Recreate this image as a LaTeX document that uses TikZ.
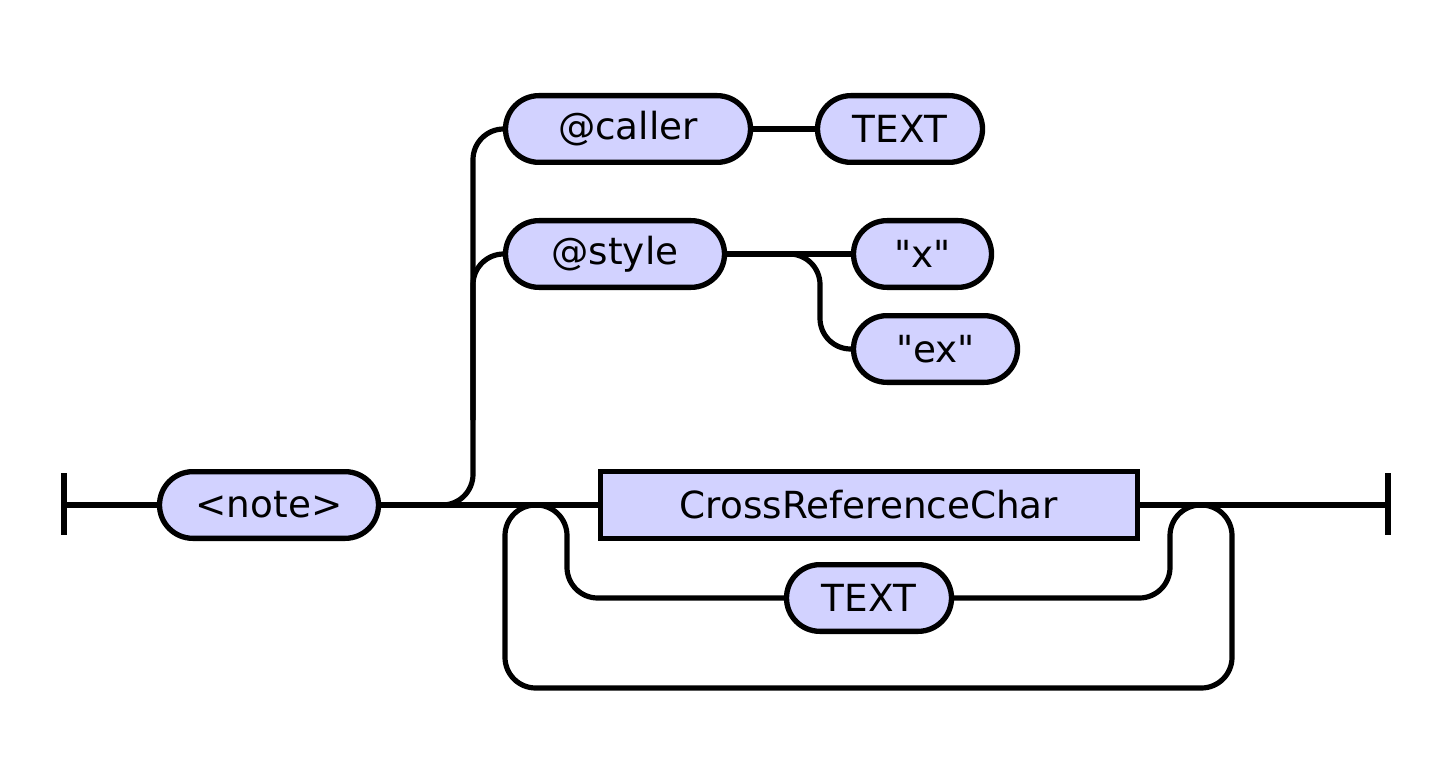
\documentclass[tikz,border=0pt]{standalone}
\usepackage{fontspec}
\setmainfont{DejaVu Sans}
\font\dvplain="DejaVu Sans" at 28pt
\definecolor{boxfill}{RGB}{210,210,255}
\newcommand{\dq}{{\dvplain\char34}}
\begin{document}
\begin{tikzpicture}[x=0.75pt,y=-0.75pt,
  rail/.style={line width=3.9pt},
  term/.style={draw,line width=4pt,fill=boxfill,rounded corners=25pt,
    minimum height=50pt,inner sep=0pt,font=\fontsize{28}{33}\selectfont,minimum width=#1*0.75pt},
  nonterm/.style={draw,line width=4pt,fill=boxfill,
    minimum height=50pt,inner sep=0pt,font=\fontsize{28}{33}\selectfont,minimum width=#1*0.75pt},
  curve/.style={rail,rounded corners=23pt}]
\useasboundingbox (0,0) rectangle (1450,781);
\fill[white] (0,0) rectangle (1450,781);
% nodes
\node[term=219] (note) at (269,505) {<note>};
\node[term=245] (caller) at (628,129) {@caller};
\node[term=165] (ctext) at (900,129) {TEXT};
\node[term=219] (style) at (615,254) {@style};
\node[term=138] (x) at (922.5,254) {\dq x\dq};
\node[term=164] (ex) at (935.5,349) {\dq ex\dq};
\node[nonterm=537] (crc) at (869,505) {CrossReferenceChar};
\node[term=165] (text2) at (869,598) {TEXT};
% coordinates
\coordinate (start) at (64,505);
\coordinate (starttop) at (64,473);
\coordinate (startbot) at (64,535);
\coordinate (finish) at (1388,505);
\coordinate (fintop) at (1388,473);
\coordinate (finbot) at (1388,535);
\coordinate (vcol) at (473,505);
\coordinate (vtop) at (473,129);
\coordinate (vstyle) at (473,254);
\coordinate (vmid) at (473,420);
\coordinate (sfork) at (788,254);
\coordinate (scol) at (820,254);
\coordinate (sbot) at (820,349);
\coordinate (lj) at (536,505);
\coordinate (rj) at (1200,505);
% bars
\draw[rail] (starttop) -- (startbot);
\draw[rail] (fintop) -- (finbot);
% main line
\draw[rail] (start) -- (note.west);
\draw[rail] (note.east) -- (crc.west);
\draw[rail] (crc.east) -- (finish);
% upper branches
\draw[curve] (note.east) -- (vcol) -- (vtop) -- (caller.west);
\draw[curve] (vmid) -- (vstyle) -- (style.west);
\draw[rail] (caller.east) -- (ctext.west);
\draw[rail] (style.east) -- (x.west);
\draw[curve] (sfork) -- (scol) -- (sbot) -- (ex.west);
% choice
\draw[curve] (lj) -- (567,505) -- (567,598) -- (text2.west);
\draw[curve] (text2.east) -- (1170,598) -- (1170,505) -- (rj);
% loop
\draw[curve] (rj) -- (1232,505) -- (1232,688) -- (505,688) -- (505,505) -- (lj);
\end{tikzpicture}
\end{document}
